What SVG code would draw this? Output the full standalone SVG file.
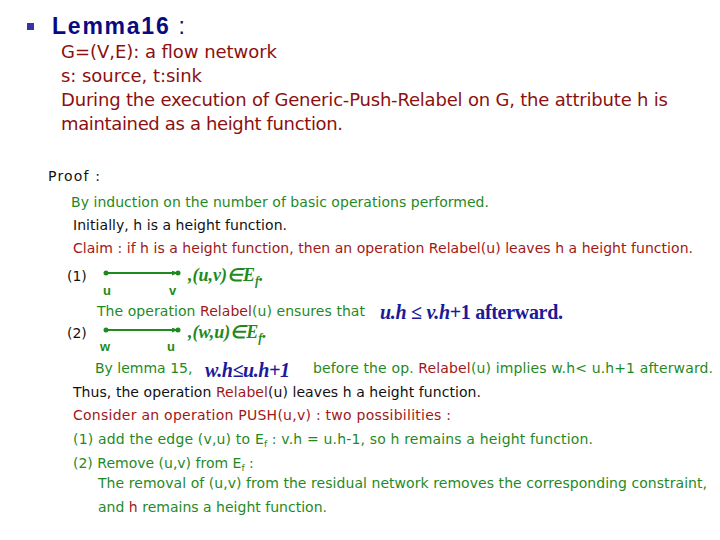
<svg xmlns="http://www.w3.org/2000/svg" width="720" height="540" viewBox="0 0 720 540">
<style>
.t{font-family:"DejaVu Sans","Liberation Sans",sans-serif;font-size:14px}
.g{fill:#1f8a1f}.r{fill:#a01818}.k{fill:#111}.n{fill:#0a0a80}
.h{font-family:"DejaVu Sans",sans-serif;font-size:18px;fill:#8b1010}
.m{font-family:"Liberation Serif",serif;font-weight:bold;font-size:20px;fill:#1a1a9a}
.mg{font-family:"Liberation Serif",serif;font-weight:bold;font-style:italic;font-size:18px;fill:#1f8a1f}
.lab{font-family:"Liberation Sans",sans-serif;font-weight:bold;font-size:13px;fill:#1f8a1f}
</style>
<defs><marker id="a" markerWidth="6" markerHeight="5" refX="5" refY="2.5" orient="auto" markerUnits="userSpaceOnUse"><path d="M0,0L6,2.5L0,5z" fill="#1f8a1f"/></marker></defs>
<rect width="720" height="540" fill="#fff"/>
<rect x="27" y="23" width="7" height="7" fill="#3333aa"/>
<text x="52" y="34" font-family="Liberation Sans,sans-serif" font-size="23" font-weight="bold" fill="#0a0a80" textLength="133">Lemma16<tspan font-weight="normal"> :</tspan></text>
<text class="h" x="61" y="58" textLength="216">G=(V,E): a flow network</text>
<text class="h" x="61" y="82" textLength="141">s: source, t:sink</text>
<text class="h" x="61" y="106" textLength="607">During the execution of Generic-Push-Relabel on G, the attribute h is</text>
<text class="h" x="61" y="130" textLength="282">maintained as a height function.</text>
<text class="t k" x="48" y="181" font-size="15" textLength="52">Proof  :</text>
<text class="t g" x="71" y="207" textLength="418">By induction on the number of basic operations performed.</text>
<text class="t k" x="73" y="230" textLength="214">Initially, h is a height function.</text>
<text class="t r" x="73" y="253" textLength="620">Claim : if h is a height function, then an operation Relabel(u) leaves h a height function.</text>
<g id="edge1">
<text class="t k" x="67" y="281" fill="#333">(1)</text>
<circle cx="106" cy="273" r="2.5" fill="#1f8a1f"/><circle cx="178" cy="273" r="2.5" fill="#1f8a1f"/>
<line x1="106" y1="273" x2="177" y2="273" stroke="#1f8a1f" stroke-width="2" marker-end="url(#a)"/>
<text class="lab" x="103" y="295">u</text><text class="lab" x="169" y="295">v</text>
<text class="mg" x="188" y="281">,(u,v)∈E<tspan font-size="12" dy="4">f</tspan><tspan dy="-4">.</tspan></text>
</g>
<text class="t g" x="97" y="316" textLength="268">The operation <tspan class="r">Relabel</tspan>(u) ensures that</text>
<text class="m" x="380" y="319" textLength="183"><tspan font-style="italic">u.h</tspan> ≤ <tspan font-style="italic">v.h</tspan>+1  afterward.</text>
<g id="edge2">
<text class="t k" x="67" y="338" fill="#333">(2)</text>
<circle cx="106" cy="330" r="2.5" fill="#1f8a1f"/><circle cx="178" cy="330" r="2.5" fill="#1f8a1f"/>
<line x1="106" y1="330" x2="177" y2="330" stroke="#1f8a1f" stroke-width="2" marker-end="url(#a)"/>
<text class="lab" x="100" y="351">w</text><text class="lab" x="167" y="351">u</text>
<text class="mg" x="188" y="338">,(w,u)∈E<tspan font-size="12" dy="4">f</tspan><tspan dy="-4">.</tspan></text>
</g>
<text class="t g" x="95" y="373">By lemma 15,</text>
<text class="m" x="205" y="377" font-style="italic" textLength="85">w.h≤u.h+1</text>
<text class="t g" x="313" y="373" textLength="400">before the op. <tspan class="r">Relabel</tspan>(u) implies w.h&lt; u.h+1 afterward.</text>
<text class="t k" x="73" y="397" textLength="408">Thus, the operation <tspan class="r">Relabel</tspan>(u) leaves h a height function.</text>
<text class="t r" x="73" y="420" textLength="378">Consider an operation PUSH(u,v) : two possibilities :</text>
<text class="t g" x="73" y="444" textLength="520">(1) add the edge (v,u) to E<tspan font-size="9" dy="3">f</tspan><tspan dy="-3"> : v.h = u.h-1, so h remains a height function.</tspan></text>
<text class="t g" x="73" y="468">(2) Remove (u,v) from E<tspan font-size="9" dy="3">f</tspan><tspan dy="-3"> :</tspan></text>
<text class="t g" x="98" y="488" textLength="609">The removal of (u,v) from the residual network removes the corresponding constraint,</text>
<text class="t g" x="98" y="512" textLength="229">and <tspan class="r">h</tspan> remains a height function.</text>
</svg>
